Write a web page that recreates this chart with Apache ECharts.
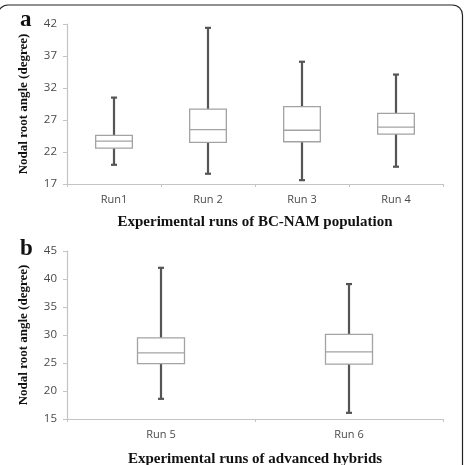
<!DOCTYPE html>
<html>
<head>
<meta charset="utf-8">
<script src="https://cdn.jsdelivr.net/npm/echarts@6/dist/echarts.min.js"></script>
<style>
	html,body{margin:0;padding:0;background:#fff;}
	#chart{width:465px;height:465px;}
</style>
</head>
<body>
<div id="chart"></div>
<script>
// panel a - BC-NAM runs
var catsA=['Run1','Run 2','Run 3','Run 4'];
// [min, q1, median, q3, max]
var boxA=[
	[20.0,22.6,23.7,24.6,30.5],
	[18.6,23.5,25.5,28.7,41.4],
	[17.6,23.6,25.4,29.1,36.1],
	[19.7,24.8,25.9,28.05,34.1]
];
var ticksA=[17,42,5];

// panel b - advanced hybrids
var catsB=['Run 5','Run 6'];
var boxB=[
	[18.6,24.9,26.8,29.5,42.0],
	[16.1,24.8,27.0,30.1,39.1]
];
var ticksB=[15,45,5];

var yName='Nodal root angle (degree)';
var xNameA='Experimental runs of BC-NAM population';
var xNameB='Experimental runs of advanced hybrids';

function toRows(arr){
	var out=[];
	for(var i=0;i<arr.length;i++){
		out.push([i].concat(arr[i]));
	}
	return out;
}

function boxRender(frac){
	return function(params,api){
		var x=api.value(0);
		var pMin=api.coord([x,api.value(1)]);
		var pQ1=api.coord([x,api.value(2)]);
		var pMed=api.coord([x,api.value(3)]);
		var pQ3=api.coord([x,api.value(4)]);
		var pMax=api.coord([x,api.value(5)]);
		var w=api.size([1,0])[0]*frac;
		var cx=pMed[0];
		var cap=3;
		var wk={stroke:'#555',lineWidth:2.2};
		var bx={stroke:'#a3a3a3',lineWidth:1.3};
		return {
			type:'group',
			children:[
				{type:'line',shape:{x1:cx,y1:pMax[1],x2:cx,y2:pMin[1]},style:wk},
				{type:'line',shape:{x1:cx-cap,y1:pMax[1],x2:cx+cap,y2:pMax[1]},style:wk},
				{type:'line',shape:{x1:cx-cap,y1:pMin[1],x2:cx+cap,y2:pMin[1]},style:wk},
				{type:'rect',shape:{x:cx-w/2,y:pQ3[1],width:w,height:pQ1[1]-pQ3[1]},style:{fill:'#fff',stroke:bx.stroke,lineWidth:bx.lineWidth}},
				{type:'line',shape:{x1:cx-w/2,y1:pMed[1],x2:cx+w/2,y2:pMed[1]},style:bx}
			]
		};
	};
}

function xAxisOf(cats,idx,name,gap){
	return {
		type:'category',
		gridIndex:idx,
		data:cats,
		boundaryGap:true,
		name:name,
		nameLocation:'middle',
		nameGap:gap,
		nameTextStyle:{fontFamily:'Liberation Serif',fontWeight:'bold',fontSize:15,color:'#111'},
		axisLine:{lineStyle:{color:'#c4c4c4',width:1.2}},
		axisTick:{show:true,length:3,lineStyle:{color:'#c4c4c4'}},
		axisLabel:{fontFamily:'Open Sans',fontSize:11,color:'#4a4a4a',margin:10}
	};
}

function yAxisOf(t,idx){
	return {
		type:'value',
		gridIndex:idx,
		min:t[0],
		max:t[1],
		interval:t[2],
		name:yName,
		nameLocation:'middle',
		nameGap:37,
		nameTextStyle:{fontFamily:'Liberation Serif',fontWeight:'bold',fontSize:13,color:'#111'},
		axisLine:{show:true,lineStyle:{color:'#c4c4c4',width:1.2}},
		axisTick:{show:true,length:4,lineStyle:{color:'#c4c4c4'}},
		axisLabel:{fontFamily:'Open Sans',fontSize:11.5,color:'#4a4a4a',margin:10},
		splitLine:{show:false}
	};
}

var echart=echarts.init(document.getElementById('chart'));
var option={
	backgroundColor:'#fff',
	animation:false,
	grid:[
		{left:67,top:24,right:22,height:160,outerBoundsMode:'none'},
		{left:67,top:251,right:22,height:168,outerBoundsMode:'none'}
	],
	xAxis:[
		xAxisOf(catsA,0,xNameA,31),
		xAxisOf(catsB,1,xNameB,33)
	],
	yAxis:[
		yAxisOf(ticksA,0),
		yAxisOf(ticksB,1)
	],
	graphic:[
		{type:'rect',shape:{x:-2,y:5,width:464.5,height:480,r:10},style:{fill:'none',stroke:'#222',lineWidth:1.2},z:-1},
		{type:'text',left:20,top:9,style:{text:'a',fontFamily:'Liberation Serif',fontWeight:'bold',fontSize:23,fill:'#111'}},
		{type:'text',left:20,top:238,style:{text:'b',fontFamily:'Liberation Serif',fontWeight:'bold',fontSize:23,fill:'#111'}}
	],
	series:[
		{
			type:'custom',
			xAxisIndex:0,
			yAxisIndex:0,
			data:toRows(boxA),
			encode:{x:0,y:[1,2,3,4,5]},
			renderItem:boxRender(0.39)
		},
		{
			type:'custom',
			xAxisIndex:1,
			yAxisIndex:1,
			data:toRows(boxB),
			encode:{x:0,y:[1,2,3,4,5]},
			renderItem:boxRender(0.25)
		}
	]
};
echart.setOption(option);
</script>
</body>
</html>
